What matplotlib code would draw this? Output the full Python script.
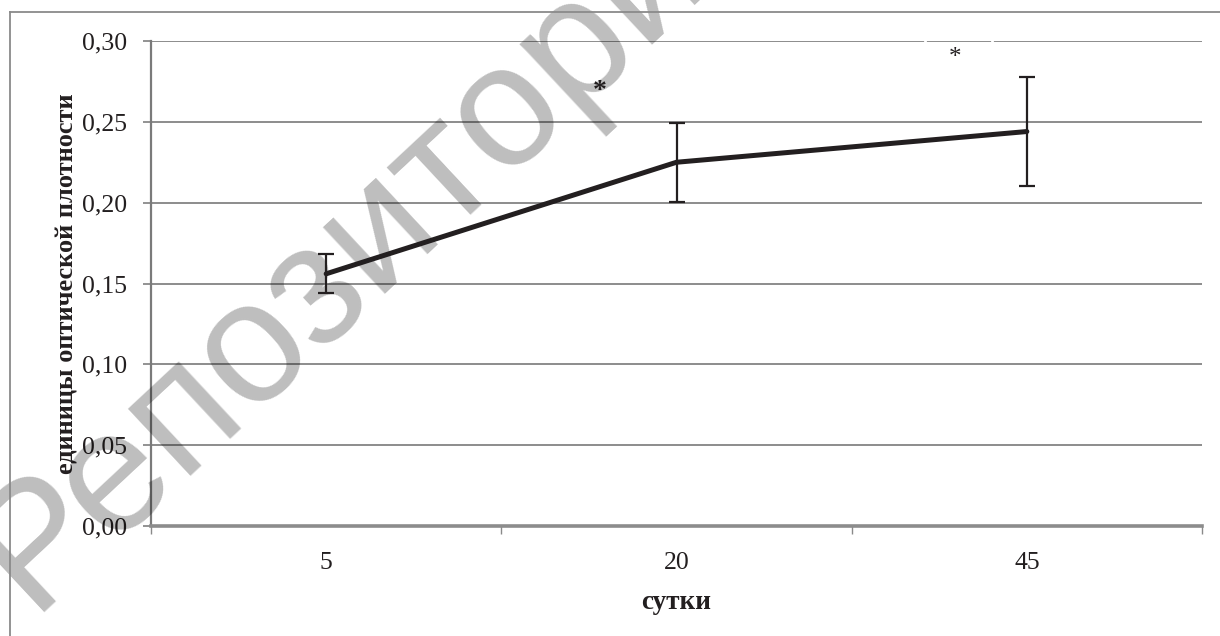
import matplotlib
matplotlib.use("Agg")
import matplotlib.pyplot as plt
from matplotlib.lines import Line2D
from matplotlib.transforms import offset_copy

# Optical density by day
days = ["5", "20", "45"]
density = [0.156, 0.225, 0.244]
errors = [0.012, 0.0245, 0.0335]
y_ticks = [0.00, 0.05, 0.10, 0.15, 0.20, 0.25, 0.30]
y_ticklabels = ["0,00", "0,05", "0,10", "0,15", "0,20", "0,25", "0,30"]
star_marks = [(0.78, 0.2685, "bold"), (1.795, 0.2895, "normal")]

W, H, DPI = 1220, 636, 100
fig = plt.figure(figsize=(W / DPI, H / DPI), dpi=DPI)
fig.patch.set_facecolor("white")

serif = ["Liberation Serif", "DejaVu Serif"]

# outer chart frame
fig.add_artist(Line2D([10 / W, 10 / W], [0, 1 - 12 / H], transform=fig.transFigure,
                      color="#8a8a8a", lw=1.3))
fig.add_artist(Line2D([10 / W, 1], [1 - 12 / H, 1 - 12 / H], transform=fig.transFigure,
                      color="#8a8a8a", lw=1.3))

ax = fig.add_axes([151 / W, 1 - 526 / H, (1202 - 151) / W, (526 - 41) / H])
ax.set_axisbelow(True)

x = list(range(len(days)))
ax.plot(x, density, color="#231f20", lw=3.6, solid_capstyle="round", zorder=4)
ax.errorbar(x, density, yerr=errors, fmt="none", ecolor="#231f20", elinewidth=1.6,
            capsize=6, capthick=1.6, zorder=4)

ax.set_xlim(-0.5, len(days) - 0.5)
ax.set_ylim(0, 0.30)

ax.set_yticks(y_ticks)
ax.set_yticklabels(y_ticklabels, fontsize=18.5, family=serif, color="#231f20")
ax.set_xticks(x)
ax.set_xticklabels(days, fontsize=18.5, family=serif, color="#231f20")
ax.set_xticks([i - 0.5 for i in range(len(days) + 1)], minor=True)
ax.tick_params(axis="x", which="major", length=0, pad=19)
ax.tick_params(axis="x", which="minor", length=6, width=1.0, color="#8a8a8a")
ax.tick_params(axis="y", length=6, width=1.3, color="#8a8a8a", pad=11)

ax.grid(axis="y", color="#8c8c8c", lw=1.4)
for s in ["top", "right"]:
    ax.spines[s].set_visible(False)
ax.spines["left"].set_color("#7a7a7a")
ax.spines["left"].set_linewidth(1.6)
ax.spines["bottom"].set_color("#8c8c8c")
ax.spines["bottom"].set_linewidth(2.6)

ax.set_ylabel("единицы оптической плотности", fontsize=19, fontweight="bold",
              family=serif, color="#231f20", labelpad=3)
ax.set_xlabel("сутки", fontsize=19.5, fontweight="bold", family=serif,
              color="#231f20", labelpad=11)

# significance marks
for sx, sy, wgt in star_marks:
    ax.text(sx, sy, "*", ha="center", va="center", fontsize=20 if wgt == "bold" else 18,
            fontweight=wgt, family=serif, color="#231f20", zorder=5)
    if wgt == "normal":
        # thin white frame edges around the lighter mark
        for dx in (-30, 37):
            tr = offset_copy(ax.transData, fig=fig, x=dx, y=0, units="dots")
            ax.plot([sx, sx], [0.296, 0.304], color="white", lw=2,
                    transform=tr, clip_on=False, zorder=1)

# repository watermark
ax.text(30 / W, 1 - 612 / H, "Репозиторий", transform=fig.transFigure,
        rotation=43, rotation_mode="anchor", ha="left", va="baseline",
        fontsize=124, family=["Liberation Sans", "DejaVu Sans"], color="black",
        alpha=0.26, clip_on=False, zorder=3)

fig.savefig("out.png", dpi=DPI, facecolor="white")
